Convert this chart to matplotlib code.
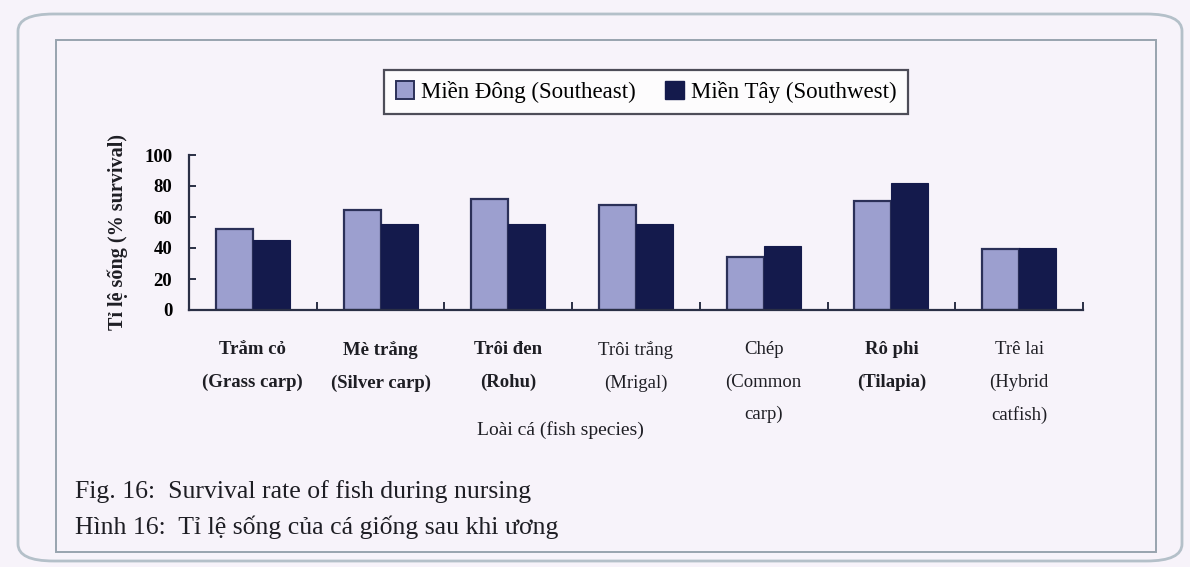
import matplotlib.pyplot as plt
import numpy as np
from matplotlib.patches import FancyBboxPatch, Rectangle, Patch

# survival (%) after nursing, by fish species and region
species = [
    "Trắm cỏ\n(Grass carp)",
    "Mè trắng\n(Silver carp)",
    "Trôi đen\n(Rohu)",
    "Trôi trắng\n(Mrigal)",
    "Chép\n(Common\ncarp)",
    "Rô phi\n(Tilapia)",
    "Trê lai\n(Hybrid\ncatfish)",
]
label_weights = ["bold", "bold", "bold", "normal", "normal", "bold", "normal"]
southeast = [52, 64.5, 71.5, 68, 34.5, 70.5, 39.5]
southwest = [45, 55.5, 55.5, 55.5, 41, 82, 40]
series_names = ["Miền Đông (Southeast)", "Miền Tây (Southwest)"]
y_ticks = [0, 20, 40, 60, 80, 100]

BG = "#f7f3fa"
SE_FILL = "#9c9fcf"
SE_EDGE = "#2b3058"
SW_FILL = "#141a4c"
FRAME = "#b4c0c9"
INK = "#1e1e24"

plt.rcParams["font.family"] = ["Liberation Serif", "DejaVu Serif"]

fig = plt.figure(figsize=(11.9, 5.67), dpi=100, facecolor=BG)
W, H = 1190, 567


def fx(px):
    return px / W


def fy(py):
    return 1 - py / H


# page frame: rounded outer border and inner box
outer = FancyBboxPatch((fx(18), fy(561)), fx(1164), 547 / H,
                       boxstyle="round,pad=0,rounding_size=0.03",
                       transform=fig.transFigure, fill=False,
                       edgecolor=FRAME, linewidth=2.0)
fig.add_artist(outer)
inner = Rectangle((fx(56), fy(552)), fx(1100), 512 / H,
                  transform=fig.transFigure, fill=False,
                  edgecolor="#98a3ae", linewidth=1.4)
fig.add_artist(inner)

ax = fig.add_axes([fx(189), fy(310), fx(1083 - 189), (310 - 155) / H])
ax.set_facecolor("none")

x = np.arange(len(species))
bw = 0.29
ax.bar(x - bw / 2, southeast, bw, color=SE_FILL, edgecolor=SE_EDGE,
       linewidth=1.6, zorder=2)
ax.bar(x + bw / 2, southwest, bw, color=SW_FILL, edgecolor=SW_FILL,
       linewidth=0.8, zorder=2)

ax.set_xlim(-0.5, len(species) - 0.5)
ax.set_ylim(0, 100)
for side in ["top", "right"]:
    ax.spines[side].set_visible(False)
for side in ["left", "bottom"]:
    ax.spines[side].set_color("#2a2f45")
    ax.spines[side].set_linewidth(1.6)

ax.set_yticks(y_ticks)
ax.set_yticklabels([str(t) for t in y_ticks], fontsize=13.5, fontweight="bold")
ax.tick_params(axis="y", direction="in", length=5, width=1.4,
               color="#2a2f45", pad=12)

# category boundaries get the inward tick marks, labels sit at centres
ax.set_xticks(np.arange(len(species) + 1) - 0.5)
ax.set_xticklabels([])
ax.tick_params(axis="x", direction="in", length=6, width=1.4, color="#2a2f45")
for i, name in enumerate(species):
    ax.text(i, -0.2, name, transform=ax.get_xaxis_transform(),
            ha="center", va="top", fontsize=13.5, linespacing=2.15,
            fontweight=label_weights[i], color=INK)

ax.text((560 - 189) / (1083 - 189), -(430 - 310) / 155,
        "Loài cá (fish species)", transform=ax.transAxes,
        ha="center", va="center", fontsize=14, color=INK)
ax.set_ylabel("Tỉ lệ sống (% survival)", fontsize=14.5, fontweight="bold",
              labelpad=12, color=INK)

handles = [
    Patch(facecolor=SE_FILL, edgecolor=SE_EDGE, linewidth=1.4),
    Patch(facecolor=SW_FILL, edgecolor=SW_FILL),
]
leg = fig.legend(handles, series_names, loc="center",
                 bbox_to_anchor=(fx(646), fy(92)), ncol=2, fontsize=16.5,
                 frameon=True, fancybox=False, borderpad=0.5,
                 handlelength=0.8, handleheight=0.8, handletextpad=0.3,
                 columnspacing=1.3)
leg.get_frame().set_edgecolor("#222230")
leg.get_frame().set_linewidth(1.6)
leg.get_frame().set_facecolor("white")

fig.text(fx(75), fy(492), "Fig. 16:  Survival rate of fish during nursing",
         fontsize=18.5, va="center", color=INK)
fig.text(fx(75), fy(527), "Hình 16:  Tỉ lệ sống của cá giống sau khi ương",
         fontsize=18.5, va="center", color=INK)

fig.savefig("out.png", dpi=100, facecolor=BG)
